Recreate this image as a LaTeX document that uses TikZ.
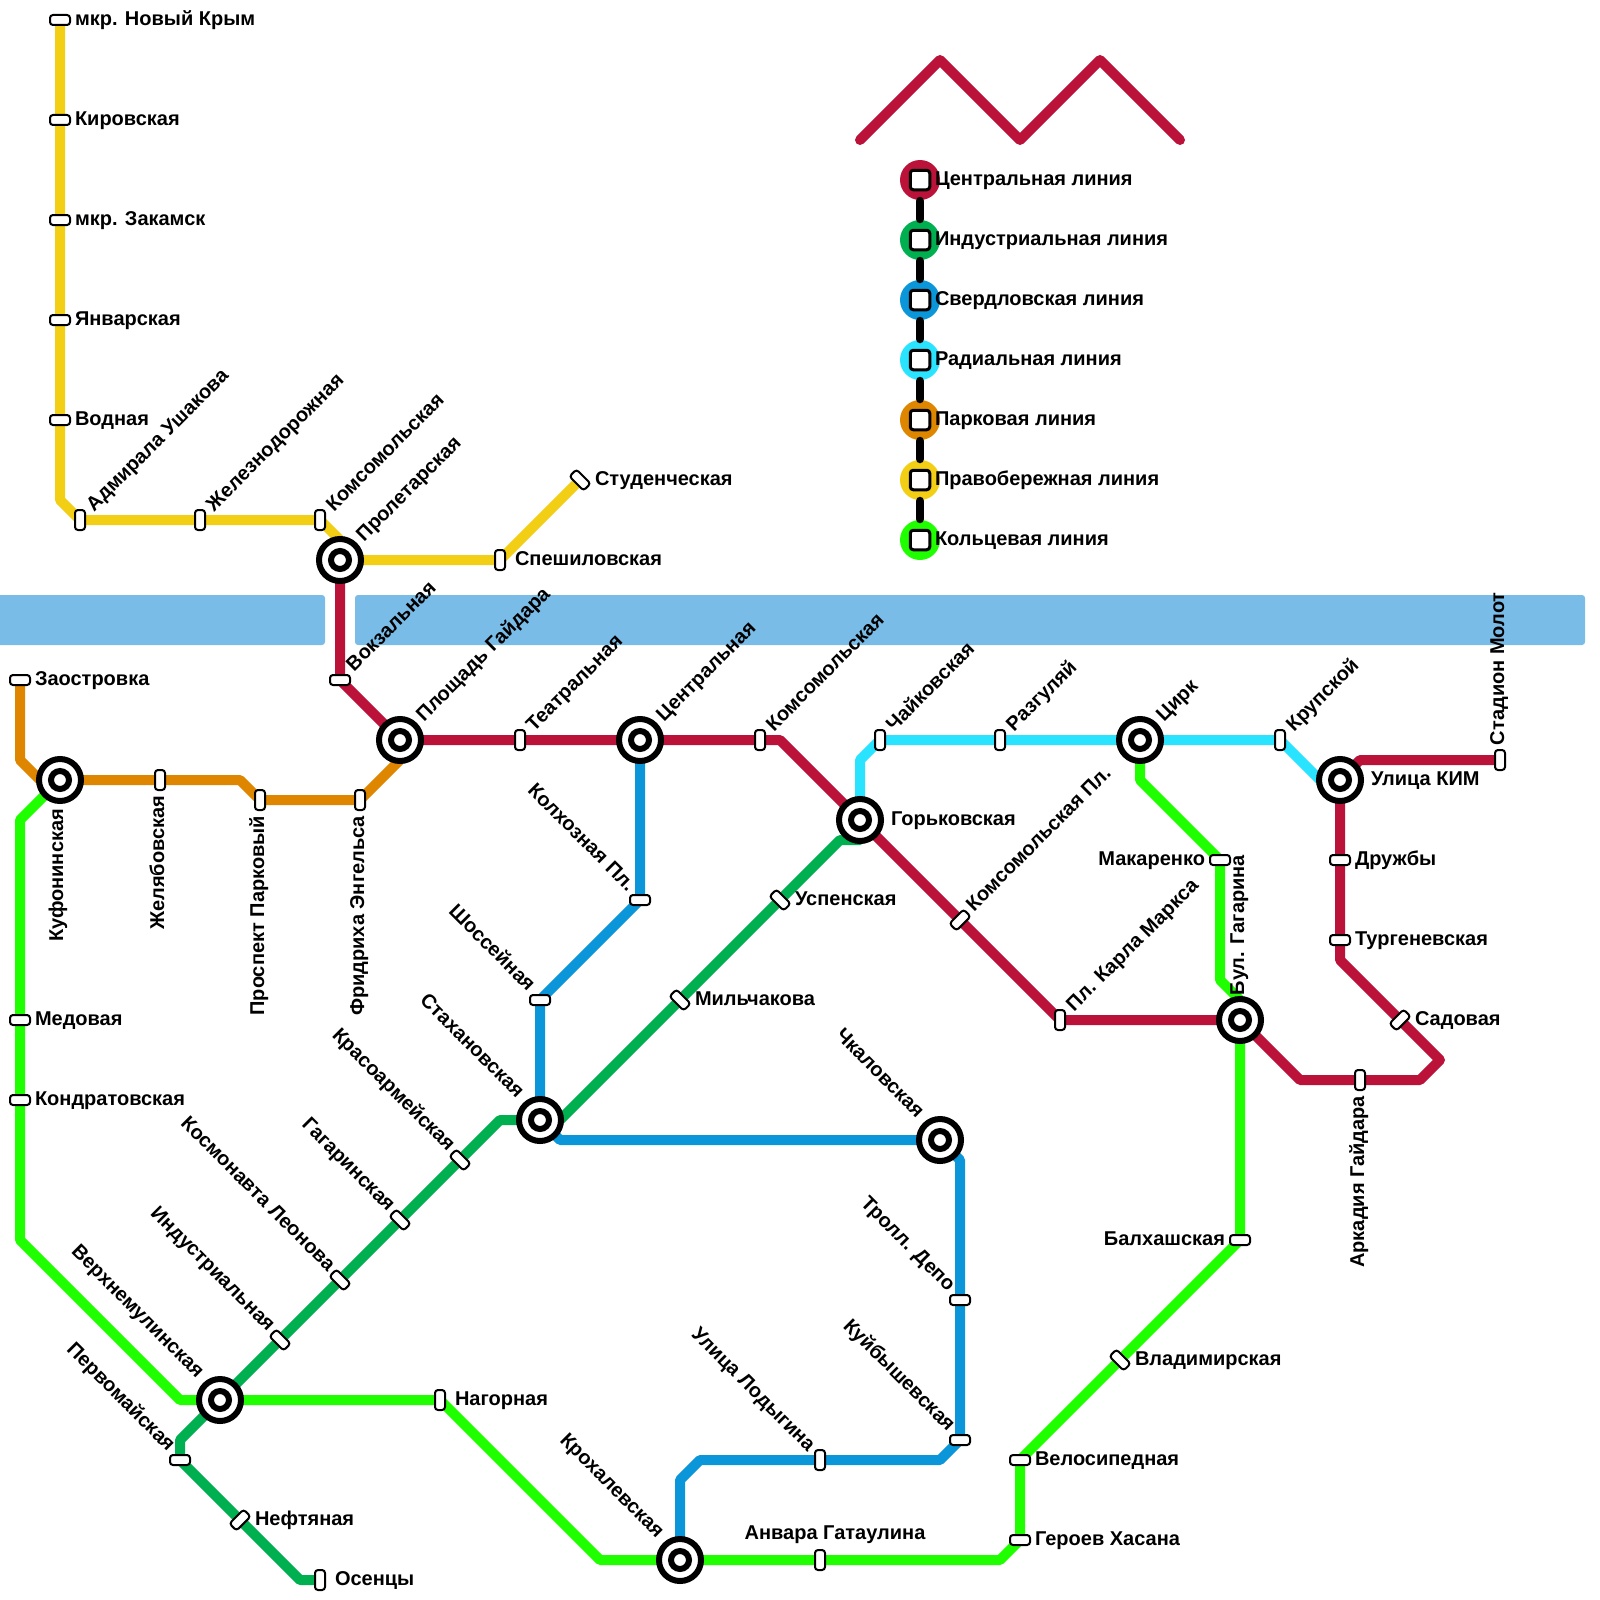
\documentclass[tikz,border=0pt]{standalone}
\usepackage{fontspec}
\setmainfont{Liberation Sans}
\usetikzlibrary{backgrounds}
\definecolor{cRed}{HTML}{BB1239}
\definecolor{cGrn}{HTML}{00B050}
\definecolor{cBlu}{HTML}{0A96D8}
\definecolor{cCya}{HTML}{29E3FF}
\definecolor{cOrg}{HTML}{DF8600}
\definecolor{cYel}{HTML}{F2CE14}
\definecolor{cLim}{HTML}{1FFF00}
\definecolor{cRiv}{HTML}{7ABCE8}
\tikzset{
  txt/.style={font=\fontsize{10}{11}\selectfont\bfseries,inner sep=0pt,outer sep=0pt,text=black,text height=7.2pt,text depth=2.1pt},
  pill/.style={draw=black,fill=white,line width=1pt,rectangle,rounded corners=1.5pt,minimum width=10pt,minimum height=5pt,inner sep=0pt,outer sep=0pt},
  ph/.style={},
  pv/.style={rotate=90},
  pu/.style={rotate=45},
  pd/.style={rotate=-45},
  hubo/.style={circle,draw=black,fill=white,line width=3pt,minimum size=21pt,inner sep=0pt,outer sep=0pt},
  hubi/.style={circle,draw=black,fill=white,line width=3pt,minimum size=9pt,inner sep=0pt,outer sep=0pt},
  lE/.style={txt,xshift=7.5pt,yshift=0pt,anchor=west},
  lW/.style={txt,xshift=-7.5pt,yshift=0pt,anchor=east},
  lNE/.style={txt,xshift=5.25pt,yshift=5.75pt,rotate=45,anchor=west},
  lNW/.style={txt,xshift=-4.5pt,yshift=5.75pt,rotate=-45,anchor=east},
  lS/.style={txt,xshift=-0.5pt,yshift=-8pt,rotate=90,anchor=east},
  lN/.style={txt,xshift=-0.5pt,yshift=7.5pt,rotate=90,anchor=west},
  lE+/.style={txt,xshift=15.5pt,yshift=0pt,anchor=west},
  lNE+/.style={txt,xshift=10.25pt,yshift=10.75pt,rotate=45,anchor=west},
  lNW+/.style={txt,xshift=-10pt,yshift=12.5pt,rotate=-45,anchor=east},
  lS+/.style={txt,xshift=-1pt,yshift=-14.5pt,rotate=90,anchor=east},
  lN+/.style={txt,xshift=-0.5pt,yshift=12.5pt,rotate=90,anchor=west},
  lT/.style={txt,xshift=7.5pt,yshift=13pt,anchor=center},
  ln/.style={line width=5pt,line join=round,line cap=butt},
  leg/.style={circle,minimum size=20pt,inner sep=0pt,outer sep=0pt},
  legs/.style={draw=black,fill=white,line width=1.5pt,rectangle,rounded corners=1.5pt,minimum size=9.75pt,inner sep=0pt,outer sep=0pt},
  legl/.style={txt,anchor=west},
  legc/.style={draw=black,line width=4.25pt,line cap=round,shorten >=9.5pt,shorten <=9.5pt},
  river/.style={fill=cRiv,draw=none,rounded corners=1.5pt},
  zig/.style={draw=cRed,line width=5pt,line cap=round,line join=round}
}
\newcommand\Pst[6]{\node[pill,#4] (#1) at (#2,#3) {}; \node[#5] (#1-l) at (#2,#3) {#6};}
\newcommand\Hst[5]{\node[hubo] (#1) at (#2,#3) {}; \node[hubi] (#1-i) at (#2,#3) {}; \node[#4] (#1-l) at (#2,#3) {#5};}
\newcommand\Leg[4]{\node[leg,fill=#2] (#1) at (920,#3) {}; \node[legl] (#1-l) at (935,#3) {#4};}
\begin{document}
\begin{tikzpicture}[x=0.5pt,y=-0.5pt]
\useasboundingbox (0,0) rectangle (1600,1600);
% hubs
\Hst{kuf}{60}{780}{lS+}{Куфонинская}
\Hst{pro}{340}{560}{lNE+}{Пролетарская}
\Hst{gai}{400}{740}{lNE+}{Площадь Гайдара}
\Hst{cen}{640}{740}{lNE+}{Центральная}
\Hst{gor}{860}{820}{lE+}{Горьковская}
\Hst{cir}{1140}{740}{lNE+}{Цирк}
\Hst{kim}{1340}{780}{lE+}{Улица КИМ}
\Hst{gag}{1240}{1020}{lN+}{Бул. Гагарина}
\Hst{sta}{540}{1120}{lNW+}{Стахановская}
\Hst{chk}{940}{1140}{lNW+}{Чкаловская}
\Hst{ver}{220}{1400}{lNW+}{Верхнемулинская}
\Hst{kro}{680}{1560}{lNW+}{Крохалевская}
% pills
\Pst{nkr}{60}{20}{ph}{lE}{мкр. Новый Крым}
\Pst{kir}{60}{120}{ph}{lE}{Кировская}
\Pst{zak}{60}{220}{ph}{lE}{мкр. Закамск}
\Pst{jan}{60}{320}{ph}{lE}{Январская}
\Pst{vod}{60}{420}{ph}{lE}{Водная}
\Pst{ush}{80}{520}{pv}{lNE}{Адмирала Ушакова}
\Pst{zhd}{200}{520}{pv}{lNE}{Железнодорожная}
\Pst{kom}{320}{520}{pv}{lNE}{Комсомольская}
\Pst{spe}{500}{560}{pv}{lE}{Спешиловская}
\Pst{stu}{580}{480}{pd}{lE}{Студенческая}
\Pst{vok}{340}{680}{ph}{lNE}{Вокзальная}
\Pst{tea}{520}{740}{pv}{lNE}{Театральная}
\Pst{ko2}{760}{740}{pv}{lNE}{Комсомольская}
\Pst{kpl}{960}{920}{pu}{lNE}{Комсомольская Пл.}
\Pst{mar}{1060}{1020}{pv}{lNE}{Пл. Карла Маркса}
\Pst{ark}{1360}{1080}{pv}{lS}{Аркадия Гайдара}
\Pst{sad}{1400}{1020}{pu}{lE}{Садовая}
\Pst{tur}{1340}{940}{ph}{lE}{Тургеневская}
\Pst{dru}{1340}{860}{ph}{lE}{Дружбы}
\Pst{mol}{1500}{760}{pv}{lN}{Стадион Молот}
\Pst{ose}{320}{1580}{pv}{lE}{Осенцы}
\Pst{nef}{240}{1520}{pu}{lE}{Нефтяная}
\Pst{per}{180}{1460}{ph}{lNW}{Первомайская}
\Pst{ind}{280}{1340}{pd}{lNW}{Индустриальная}
\Pst{leo}{340}{1280}{pd}{lNW}{Космонавта Леонова}
\Pst{ggr}{400}{1220}{pd}{lNW}{Гагаринская}
\Pst{kra}{460}{1160}{pd}{lNW}{Красоармейская}
\Pst{mil}{680}{1000}{pd}{lE}{Мильчакова}
\Pst{usp}{780}{900}{pd}{lE}{Успенская}
\Pst{sho}{540}{1000}{ph}{lNW}{Шоссейная}
\Pst{kol}{640}{900}{ph}{lNW}{Колхозная Пл.}
\Pst{tro}{960}{1300}{ph}{lNW}{Тролл. Депо}
\Pst{kuy}{960}{1440}{ph}{lNW}{Куйбышевская}
\Pst{lod}{820}{1460}{pv}{lNW}{Улица Лодыгина}
\Pst{cha}{880}{740}{pv}{lNE}{Чайковская}
\Pst{raz}{1000}{740}{pv}{lNE}{Разгуляй}
\Pst{kru}{1280}{740}{pv}{lNE}{Крупской}
\Pst{zao}{20}{680}{ph}{lE}{Заостровка}
\Pst{zhe}{160}{780}{pv}{lS}{Желябовская}
\Pst{par}{260}{800}{pv}{lS}{Проспект Парковый}
\Pst{eng}{360}{800}{pv}{lS}{Фридриха Энгельса}
\Pst{med}{20}{1020}{ph}{lE}{Медовая}
\Pst{kon}{20}{1100}{ph}{lE}{Кондратовская}
\Pst{nag}{440}{1400}{pv}{lE}{Нагорная}
\Pst{anv}{820}{1560}{pv}{lT}{Анвара Гатаулина}
\Pst{has}{1020}{1540}{ph}{lE}{Героев Хасана}
\Pst{vel}{1020}{1460}{ph}{lE}{Велосипедная}
\Pst{vla}{1120}{1360}{pd}{lE}{Владимирская}
\Pst{bal}{1240}{1240}{ph}{lW}{Балхашская}
\Pst{mak}{1220}{860}{ph}{lW}{Макаренко}
% bends
\coordinate (b1) at (60,500);
\coordinate (b2) at (340,540);
\coordinate (r1) at (780,740);
\coordinate (r2) at (1300,1080);
\coordinate (r3) at (1420,1080);
\coordinate (r4) at (1440,1060);
\coordinate (r5) at (1340,960);
\coordinate (r6) at (1360,760);
\coordinate (g1) at (300,1580);
\coordinate (g2) at (180,1440);
\coordinate (g3) at (500,1120);
\coordinate (g4) at (560,1120);
\coordinate (g5) at (840,840);
\coordinate (g6) at (860,840);
\coordinate (u1) at (560,1140);
\coordinate (u2) at (960,1160);
\coordinate (u3) at (940,1460);
\coordinate (u4) at (700,1460);
\coordinate (u5) at (680,1480);
\coordinate (c1) at (860,760);
\coordinate (c2) at (1320,780);
\coordinate (o1) at (20,760);
\coordinate (o2) at (40,780);
\coordinate (o3) at (240,780);
\coordinate (o4) at (400,760);
\coordinate (l1) at (20,820);
\coordinate (l2) at (20,1240);
\coordinate (l3) at (180,1400);
\coordinate (l4) at (600,1560);
\coordinate (l5) at (1000,1560);
\coordinate (l6) at (1240,1000);
\coordinate (l7) at (1220,980);
\coordinate (l8) at (1140,780);
\begin{scope}[on background layer]
  \path[river] (-10,595) rectangle (325,645);
  \path[river] (355,595) rectangle (1585,645);
  \draw[ln,cYel] (nkr.center)--(kir.center)--(zak.center)--(jan.center)--(vod.center)--(b1)--(ush.center)--(zhd.center)--(kom.center)--(b2)--(pro.center)--(spe.center)--(stu.center);
  \draw[ln,cOrg] (zao.center)--(o1)--(o2)--(kuf.center)--(zhe.center)--(o3)--(par.center)--(eng.center)--(o4)--(gai.center);
  \draw[ln,cLim] (kuf.center)--(l1)--(med.center)--(kon.center)--(l2)--(l3)--(ver.center)--(nag.center)--(l4)--(kro.center)--(anv.center)--(l5)--(has.center)--(vel.center)--(vla.center)--(bal.center)--(gag.center)--(l6)--(l7)--(mak.center)--(l8)--(cir.center);
  \draw[ln,cGrn] (ose.center)--(g1)--(nef.center)--(per.center)--(g2)--(ver.center)--(ind.center)--(leo.center)--(ggr.center)--(kra.center)--(g3)--(sta.center)--(g4)--(mil.center)--(usp.center)--(g5)--(g6)--(gor.center);
  \draw[ln,cBlu] (cen.center)--(kol.center)--(sho.center)--(sta.center)--(u1)--(chk.center)--(u2)--(tro.center)--(kuy.center)--(u3)--(lod.center)--(u4)--(u5)--(kro.center);
  \draw[ln,cCya] (gor.center)--(c1)--(cha.center)--(raz.center)--(cir.center)--(kru.center)--(c2)--(kim.center);
  \draw[ln,cRed] (pro.center)--(vok.center)--(gai.center)--(tea.center)--(cen.center)--(ko2.center)--(r1)--(gor.center)--(kpl.center)--(mar.center)--(gag.center)--(r2)--(ark.center)--(r3)--(r4)--(sad.center)--(r5)--(tur.center)--(dru.center)--(kim.center)--(r6)--(mol.center);
\end{scope}
% legend
\coordinate (z1) at (860,140);
\coordinate (z2) at (940,60);
\coordinate (z3) at (1020,140);
\coordinate (z4) at (1100,60);
\coordinate (z5) at (1180,140);
\draw[zig] (z1)--(z2)--(z3)--(z4)--(z5);
\Leg{a1}{cRed}{180}{Центральная линия}
\Leg{a2}{cGrn}{240}{Индустриальная линия}
\Leg{a3}{cBlu}{300}{Свердловская линия}
\Leg{a4}{cCya}{360}{Радиальная линия}
\Leg{a5}{cOrg}{420}{Парковая линия}
\Leg{a6}{cYel}{480}{Правобережная линия}
\Leg{a7}{cLim}{540}{Кольцевая линия}
\draw[legc] (a1)--(a2);
\draw[legc] (a2)--(a3);
\draw[legc] (a3)--(a4);
\draw[legc] (a4)--(a5);
\draw[legc] (a5)--(a6);
\draw[legc] (a6)--(a7);
\node[legs] (s1) at (a1) {};
\node[legs] (s2) at (a2) {};
\node[legs] (s3) at (a3) {};
\node[legs] (s4) at (a4) {};
\node[legs] (s5) at (a5) {};
\node[legs] (s6) at (a6) {};
\node[legs] (s7) at (a7) {};
\end{tikzpicture}
\end{document}
